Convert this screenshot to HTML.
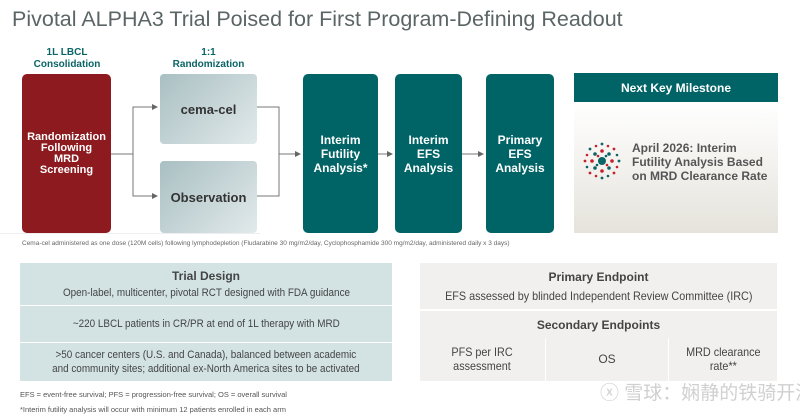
<!DOCTYPE html>
<html><head><meta charset="utf-8"><style>
*{margin:0;padding:0;box-sizing:border-box}
body{width:800px;height:417px;background:#fff;font-family:"Liberation Sans",Arial,sans-serif;position:relative;overflow:hidden}
.a{position:absolute}
.c{display:flex;align-items:center;justify-content:center;text-align:center}
.tl{color:#fff;font-weight:bold;font-size:12px;line-height:14px;border-radius:5px}
.teal{background:#006366}
.hd{color:#0b6466;font-weight:bold;font-size:10px;line-height:12px;text-align:center}
.arm{background:linear-gradient(135deg,#a9bfc2,#e2eaeb);border-radius:4px;color:#333;font-weight:bold;font-size:13px}
.td{background:#d3e3e4;color:#444;font-size:11px;line-height:14px}
.gr{background:#f1f0ee;color:#444;font-size:12px;line-height:14px}
.s{display:inline-block;transform:scaleX(0.9)}
</style></head><body>
<div class="a" style="left:12px;top:7px;font-size:21.5px;color:#5b6566">Pivotal ALPHA3 Trial Poised for First Program-Defining Readout</div>

<div class="a hd" style="left:22px;top:47px;width:90px">1L LBCL<br>Consolidation</div>
<div class="a hd" style="left:160px;top:47px;width:97px">1:1<br>Randomization</div>

<div class="a c tl" style="left:22px;top:74px;width:89px;height:159px;background:#8c1a1e;font-size:11px;line-height:11px">Randomization<br>Following<br>MRD<br>Screening</div>
<div class="a c arm" style="left:160px;top:74px;width:97px;height:70px">cema-cel</div>
<div class="a c arm" style="left:160px;top:161px;width:97px;height:72px">Observation</div>
<div class="a c tl teal" style="left:303px;top:74px;width:75px;height:159px">Interim<br>Futility<br>Analysis*</div>
<div class="a c tl teal" style="left:395px;top:74px;width:67px;height:159px">Interim<br>EFS<br>Analysis</div>
<div class="a c tl teal" style="left:486px;top:74px;width:68px;height:159px">Primary<br>EFS<br>Analysis</div>

<svg class="a" style="left:0;top:0" width="800" height="260">
<defs><marker id="m" markerWidth="6" markerHeight="6" refX="5" refY="3" orient="auto"><path d="M0,0L6,3L0,6z" fill="#666"/></marker></defs>
<g stroke="#777" stroke-width="1" fill="none">
<path d="M111,154H133V107H157" marker-end="url(#m)"/>
<path d="M133,154V196H157" marker-end="url(#m)"/>
<path d="M257,107H279V196H257"/>
<path d="M279,154H300" marker-end="url(#m)"/>
<path d="M378,154H392" marker-end="url(#m)"/>
<path d="M462,154H483" marker-end="url(#m)"/>
</g>
<line x1="0" y1="233.5" x2="260" y2="233.5" stroke="#eee"/>
</svg>

<div class="a c" style="left:574px;top:73px;width:204px;height:29px;background:#006366;color:#fff;font-weight:bold;font-size:12px">Next Key Milestone</div>
<div class="a" style="left:574px;top:102px;width:204px;height:131px;background:linear-gradient(#fff,#e6e3dc)"></div>
<svg class="a" style="left:582px;top:141px" width="40" height="40">
<circle cx="20" cy="20" r="4" fill="#0b6466"/>
<g fill="#c8202a"><circle cx="20" cy="10" r="1.8"/><circle cx="30" cy="20" r="1.8"/><circle cx="20" cy="30" r="1.8"/><circle cx="10" cy="20" r="1.8"/><circle cx="32" cy="8" r="1.4"/><circle cx="32" cy="32" r="1.4"/><circle cx="8" cy="32" r="1.4"/><circle cx="3" cy="20" r="1.4"/><circle cx="26" cy="5" r="1.3"/><circle cx="35" cy="26" r="1.3"/><circle cx="14" cy="35" r="1.3"/><circle cx="5" cy="14" r="1.3"/><circle cx="14" cy="5" r="1.3"/><circle cx="16" cy="15" r="1.3"/><circle cx="25" cy="24" r="1.3"/></g>
<g fill="#0b6466"><circle cx="27" cy="13" r="1.8"/><circle cx="27" cy="27" r="1.8"/><circle cx="13" cy="27" r="1.8"/><circle cx="13" cy="13" r="1.8"/><circle cx="20" cy="3" r="1.4"/><circle cx="37" cy="20" r="1.4"/><circle cx="20" cy="37" r="1.4"/><circle cx="8" cy="8" r="1.4"/><circle cx="35" cy="14" r="1.3"/><circle cx="26" cy="35" r="1.3"/><circle cx="5" cy="26" r="1.3"/><circle cx="24" cy="15" r="1.3"/><circle cx="15" cy="24" r="1.3"/></g>
</svg>
<div class="a" style="left:632px;top:141px;color:#555;font-weight:bold;font-size:12px;line-height:14px">April 2026: Interim<br>Futility Analysis Based<br>on MRD Clearance Rate</div>

<div class="a" style="left:22px;top:240px;font-size:6.5px;color:#666">Cema-cel administered as one dose (120M cells) following lymphodepletion (Fludarabine 30 mg/m2/day, Cyclophosphamide 300 mg/m2/day, administered daily x 3 days)</div>

<div class="a td c" style="left:20px;top:263px;width:372px;height:42px;flex-direction:column"><b style="font-size:12px;margin-bottom:3px">Trial Design</b><span class="s">Open-label, multicenter, pivotal RCT designed with FDA guidance</span></div>
<div class="a td c" style="left:20px;top:306px;width:372px;height:36px"><span class="s">~220 LBCL patients in CR/PR at end of 1L therapy with MRD</span></div>
<div class="a td c" style="left:20px;top:343px;width:372px;height:38px"><span class="s">&gt;50 cancer centers (U.S. and Canada), balanced between academic<br>and community sites; additional ex-North America sites to be activated</span></div>

<div class="a gr c" style="left:420px;top:263px;width:357px;height:46px;flex-direction:column"><b style="margin-bottom:5px">Primary Endpoint</b><span class="s">EFS assessed by blinded Independent Review Committee (IRC)</span></div>
<div class="a gr" style="left:420px;top:311px;width:357px;height:70px"></div>
<div class="a" style="left:420px;top:318px;width:357px;text-align:center;font-weight:bold;font-size:12px;color:#444">Secondary Endpoints</div>
<div class="a gr c" style="left:420px;top:338px;width:125px;height:42px;background:none"><span class="s">PFS per IRC<br>assessment</span></div>
<div class="a" style="left:545px;top:338px;width:1px;height:43px;background:#fff"></div>
<div class="a gr c" style="left:546px;top:338px;width:122px;height:42px;background:none">OS</div>
<div class="a" style="left:668px;top:338px;width:1px;height:43px;background:#fff"></div>
<div class="a gr c" style="left:669px;top:338px;width:108px;height:42px;background:none"><span class="s">MRD clearance<br>rate**</span></div>

<div class="a" style="left:20px;top:390px;font-size:7.5px;color:#555">EFS = event-free survival; PFS = progression-free survival; OS = overall survival</div>
<div class="a" style="left:20px;top:405px;font-size:7.5px;color:#555">*Interim futility analysis will occur with minimum 12 patients enrolled in each arm</div>
<div class="a" style="left:600px;top:378px;width:200px;white-space:nowrap;font-size:19px;color:rgba(200,200,200,0.85);font-family:'Liberation Sans','Noto Sans CJK SC',sans-serif">ⓧ 雪球：娴静的铁骑开源</div>
</body></html>
